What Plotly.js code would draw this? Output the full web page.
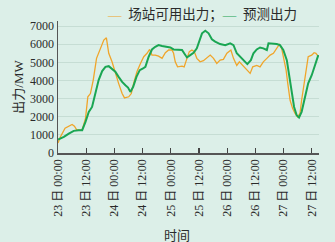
<!DOCTYPE html>
<html>
<head>
<meta charset="utf-8">
<script src="https://cdn.plot.ly/plotly-3.0.1.min.js"></script>
<style>html,body{margin:0;padding:0;background:#dcefe8;}#chart{width:335px;height:242px;}</style>
</head>
<body>
<div id="chart"></div>
<script>
// hours since 23日 00:00
const availHours = [0,1,3,4.5,6,7,7.9,9.6,10.3,11.7,12.7,13.8,15,16.4,17.8,19.5,20.6,21.6,23,24.4,25.8,27.3,28.3,30.1,31.2,32.2,33.6,35.1,36.5,37.9,39,40,41.4,42.8,44.3,45.7,47.1,48.5,49.2,49.9,50.9,52.8,53.7,54.9,55.9,57,58,59.1,60.5,61.9,63.4,64.8,66.2,67.6,69,70.4,71.9,73.6,74.7,76.1,77.2,78.7,80.4,81.8,82.9,84.6,86,87.4,88.9,90.3,91.7,93.1,94.2,95.2,96.2,97.1,97.8,98.8,99.9,100.9,102,103,103.7,104.7,105.6,106.5,108,109,109.8,110.8];
const availMW = [553,885,1365,1475,1570,1475,1290,1260,1290,1900,3100,3280,4020,5220,5680,6230,6350,5500,5030,4390,3840,3280,3040,3100,3280,3840,4480,4940,5310,5500,5710,5400,5400,5340,5220,5530,5680,5680,5500,5030,4750,4790,4750,5220,5590,5680,5590,5220,5030,5090,5270,5400,5220,4940,5120,5160,5500,5680,5220,4830,5030,4830,4570,4390,4750,4830,4750,5030,5220,5400,5500,5770,5990,5770,5220,4570,3840,2910,2450,2180,1990,2180,2910,3840,4750,5310,5400,5530,5500,5310];
const forecastHours = [0,2.5,4.6,6.7,8.8,10.3,11.7,13.1,14.5,15.9,17.3,18.8,20.2,21.6,23,24.4,25.8,27.3,28.7,29.8,30.8,32,33.4,34.8,36.2,37.2,38.6,40,41.4,42.8,44.3,45.7,47.8,49.2,51.3,52.8,53.7,54.9,56.3,57.7,59.1,60.2,61.3,62.7,64.1,65.5,66.9,69,71.2,73.3,74.7,76.1,77.5,78.9,80.6,82.1,83.2,84.6,86,87.4,88.9,89.6,91,93.1,94.5,95.9,97.4,98.5,99.5,100.5,101.6,102.6,103.7,105.1,106.5,108,109.4,110.8];
const forecastMW = [740,885,1070,1220,1255,1255,1715,2270,2540,3280,4020,4520,4750,4790,4610,4480,4200,3920,3740,3610,3370,3650,4200,4570,4660,4750,5310,5710,5860,5950,5900,5860,5820,5710,5680,5680,5500,5270,5400,5530,5770,6230,6600,6740,6600,6270,6140,6010,5950,6050,5950,5500,5310,5160,4900,5120,5500,5710,5820,5770,5680,6050,6050,6010,5950,5680,5120,4200,3280,2540,2080,1950,2270,3000,3840,4290,4830,5400];
const tickHours = [0,12,24,36,48,60,72,84,96,108];
const tickLabels = ["23 日 00:00","23 日 12:00","24 日 00:00","24 日 12:00","25 日 00:00","25 日 12:00","26 日 00:00","26 日 12:00","27 日 00:00","27 日 12:00"];
const yTicks = [0,1000,2000,3000,4000,5000,6000,7000];
const seriesNames = ["场站可用出力","预测出力"];

const ORANGE = "#f0a52a", GREEN = "#1aa653";
const FONT = "Liberation Serif, 'Noto Sans CJK SC', serif";

const traces = [
  {x: availHours, y: availMW, name: seriesNames[0], type: "scatter", mode: "lines",
   line: {color: ORANGE, width: 1.3}},
  {x: forecastHours, y: forecastMW, name: seriesNames[1], type: "scatter", mode: "lines",
   line: {color: GREEN, width: 2}}
];

const layout = {
  width: 335, height: 242,
  margin: {l: 57.5, r: 16, t: 21, b: 89},
  paper_bgcolor: "#dcefe8", plot_bgcolor: "#dcefe8",
  showlegend: false,
  font: {family: FONT, size: 12, color: "#2a2a2a"},
  xaxis: {
    range: [0, 111.1], tickvals: tickHours, ticktext: tickLabels, tickangle: -90,
    ticks: "inside", ticklen: 5, tickcolor: "#444", tickwidth: 1.2,
    showline: true, linecolor: "#555", linewidth: 1.5, showgrid: false, zeroline: false,
    tickfont: {family: FONT, size: 12, color: "#2a2a2a"}
  },
  yaxis: {
    range: [0, 7280], tickvals: yTicks, ticks: "", showline: true, linecolor: "#555", linewidth: 1.5,
    showgrid: true, gridcolor: "#c6ddd4", gridwidth: 1, zeroline: false,
    tickfont: {family: FONT, size: 12, color: "#2a2a2a"},
    title: {text: "出力/MW", font: {family: FONT, size: 13, color: "#2a2a2a"}, standoff: 3}
  },
  annotations: [
    {xref: "paper", yref: "paper", x: 0.55, y: 1.0, yshift: 6, xanchor: "center", yanchor: "middle", showarrow: false,
     text: '<span style="color:' + ORANGE + '">—</span>  ' + seriesNames[0] + '；<span style="color:' + GREEN + '">—</span>  ' + seriesNames[1],
     font: {family: FONT, size: 13.5, color: "#2a2a2a"}},
    {xref: "paper", yref: "paper", x: 0.457, y: 0, yshift: -73, xanchor: "center", yanchor: "top", showarrow: false,
     text: "时间", font: {family: FONT, size: 13, color: "#2a2a2a"}}
  ]
};

Plotly.newPlot("chart", traces, layout, {displayModeBar: false, staticPlot: true});
</script>
</body>
</html>
